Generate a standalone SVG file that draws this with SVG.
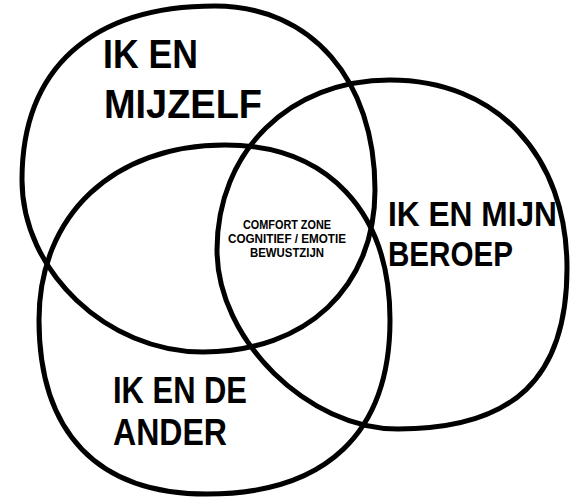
<svg xmlns="http://www.w3.org/2000/svg" width="582" height="500" viewBox="0 0 582 500">
<style>
.ring{fill:none;stroke:#000;stroke-width:5;stroke-linejoin:round}
.big{font-family:"Liberation Sans","DejaVu Sans",Arial,sans-serif;font-weight:bold;fill:#000}
.small{font-family:"Liberation Sans","DejaVu Sans",Arial,sans-serif;font-weight:bold;font-size:12px;fill:#000;text-anchor:middle}
</style>
<rect width="582" height="500" fill="#fff"/>
<g id="ik-en-mijzelf">
<path class="ring" d="M215,6 C311,6 375,79.6 375,190 C375,287.2 306.2,352 203,352 C107.1,352 22,271.2 22,180 C22,68.6 91.5,6 215,6 Z"/>
<text class="big" font-size="40" x="103" y="68" textLength="95" lengthAdjust="spacingAndGlyphs">IK EN</text>
<text class="big" font-size="40" x="104" y="118" textLength="158" lengthAdjust="spacingAndGlyphs">MIJZELF</text>
</g>
<g id="ik-en-mijn-beroep">
<path class="ring" d="M390,80 C496.2,80 567,155.2 567,268 C567,378.2 513.6,429 398,429 C308.5,429 217,340 217,250 C217,151.4 289.7,80 390,80 Z"/>
<text class="big" font-size="35" x="388" y="226" textLength="169" lengthAdjust="spacingAndGlyphs">IK EN MIJN</text>
<text class="big" font-size="35" x="388" y="266" textLength="125" lengthAdjust="spacingAndGlyphs">BEROEP</text>
</g>
<g id="ik-en-de-ander">
<path class="ring" d="M225,145 C327.3,145 390,211.5 390,320 C390,433.1 326,494 207,494 C97.8,494 39,433.1 39,320 C39,215 113.4,145 225,145 Z"/>
<text class="big" font-size="36" x="113" y="403" textLength="134" lengthAdjust="spacingAndGlyphs">IK EN DE</text>
<text class="big" font-size="36" x="113" y="445" textLength="114" lengthAdjust="spacingAndGlyphs">ANDER</text>
</g>
<g id="comfort-zone">
<text class="small" x="287" y="228.5" textLength="88" lengthAdjust="spacingAndGlyphs">COMFORT ZONE</text>
<text class="small" x="287" y="243" textLength="118" lengthAdjust="spacingAndGlyphs">COGNITIEF / EMOTIE</text>
<text class="small" x="287" y="257" textLength="74" lengthAdjust="spacingAndGlyphs">BEWUSTZIJN</text>
</g>
</svg>
